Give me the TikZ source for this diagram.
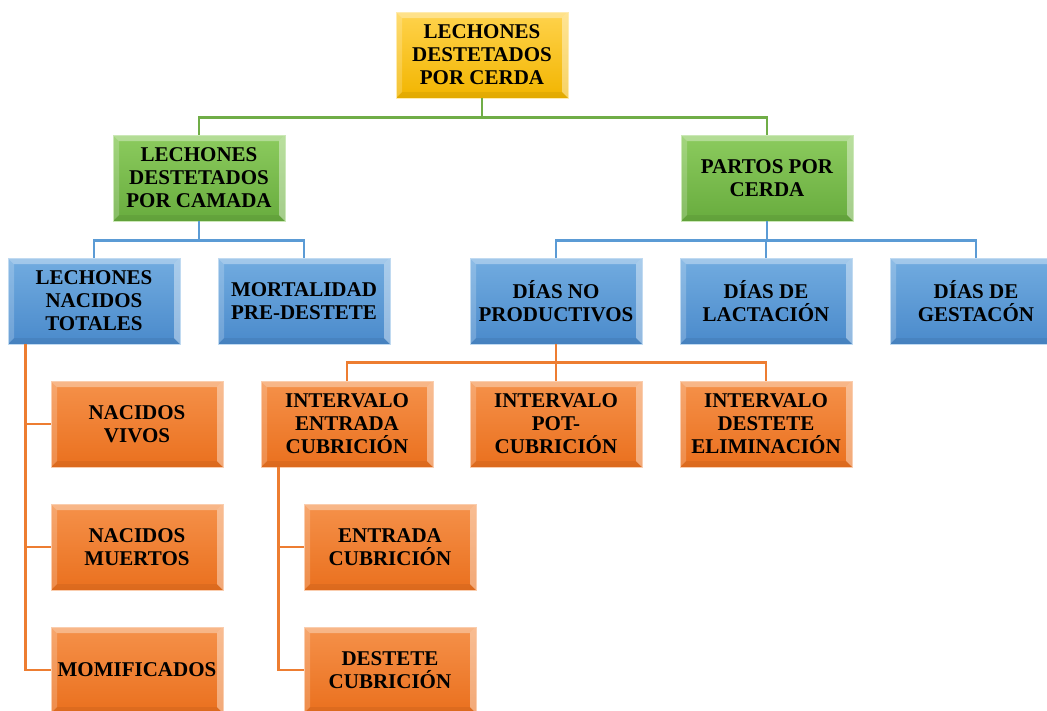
\documentclass[tikz,border=0pt]{standalone}
\usepackage{fontspec}
\setmainfont{Liberation Serif}
\definecolor{goldT}{HTML}{FFD34D}
\definecolor{goldB}{HTML}{F2B500}
\definecolor{greenT}{HTML}{8CCB5E}
\definecolor{greenB}{HTML}{68AC3E}
\definecolor{blueT}{HTML}{72ACE0}
\definecolor{blueB}{HTML}{4A8ACB}
\definecolor{orangeT}{HTML}{F5914A}
\definecolor{orangeB}{HTML}{EA701E}
\definecolor{gline}{HTML}{70AD47}
\definecolor{bline}{HTML}{5B9BD5}
\definecolor{oline}{HTML}{ED7D31}
\usetikzlibrary{calc}
\tikzset{
  card/.style n args={2}{rectangle, minimum width=172pt, minimum height=86pt, inner sep=0pt,
    align=center, font=\bfseries\fontsize{21}{23}\selectfont,
    top color=#1, bottom color=#2, draw=white!55!#1, line width=0.6pt,
    path picture={
      \fill[white,opacity=0.35] (path picture bounding box.north west) -- (path picture bounding box.north east) -- ++(-6,6) -- ($(path picture bounding box.north west)+(6,6)$) -- cycle;
      \fill[white,opacity=0.2] (path picture bounding box.north west) -- (path picture bounding box.south west) -- ++(6,-6) -- ($(path picture bounding box.north west)+(6,6)$) -- cycle;
      \fill[white,opacity=0.4] (path picture bounding box.north east) -- (path picture bounding box.south east) -- ++(-6,-6) -- ($(path picture bounding box.north east)+(-6,6)$) -- cycle;
      \fill[black,opacity=0.06] (path picture bounding box.south west) -- (path picture bounding box.south east) -- ++(-6,-6) -- ($(path picture bounding box.south west)+(6,-6)$) -- cycle;
    }},
  gold/.style={card={goldT}{goldB}},
  grn/.style={card={greenT}{greenB}},
  blu/.style={card={blueT}{blueB}},
  org/.style={card={orangeT}{orangeB}},
  link/.style={line width=2.6pt, color=#1}
}
\begin{document}
\begin{tikzpicture}[x=1pt,y=-1pt]
\useasboundingbox (0,0) rectangle (1047,710);
\node[gold] (top) at (482,55) {LECHONES\\DESTETADOS\\POR CERDA};
\node[grn] (ldc) at (199,178) {LECHONES\\DESTETADOS\\POR CAMADA};
\node[grn] (ppc) at (767,178) {PARTOS POR\\CERDA};
\node[blu] (lnt) at (94,301) {LECHONES\\NACIDOS\\TOTALES};
\node[blu] (mpd) at (304,301) {MORTALIDAD\\PRE-DESTETE};
\node[blu] (dnp) at (556,301) {DÍAS NO\\PRODUCTIVOS};
\node[blu] (ddl) at (766,301) {DÍAS DE\\LACTACIÓN};
\node[blu] (ddg) at (976,301) {DÍAS DE\\GESTACÓN};
\node[org] (nv) at (137,424) {NACIDOS\\VIVOS};
\node[org] (nm) at (137,547) {NACIDOS\\MUERTOS};
\node[org] (mom) at (137,670) {MOMIFICADOS};
\node[org] (iec) at (347,424) {INTERVALO\\ENTRADA\\CUBRICIÓN};
\node[org] (ipc) at (556,424) {INTERVALO\\POT-\\CUBRICIÓN};
\node[org] (ide) at (766,424) {INTERVALO\\DESTETE\\ELIMINACIÓN};
\node[org] (ec) at (390,547) {ENTRADA\\CUBRICIÓN};
\node[org] (dc) at (390,670) {DESTETE\\CUBRICIÓN};
\draw[link=gline] (top.south) -- ++(0,19) -| (ldc.north);
\draw[link=gline] (top.south) -- ++(0,19) -| (ppc.north);
\draw[link=bline] (ldc.south) -- ++(0,19) -| (lnt.north);
\draw[link=bline] (ldc.south) -- ++(0,19) -| (mpd.north);
\draw[link=bline] (ppc.south) -- ++(0,19) -| (dnp.north);
\draw[link=bline] (ppc.south) -- ++(0,19) -| (ddl.north);
\draw[link=bline] (ppc.south) -- ++(0,19) -| (ddg.north);
\draw[link=oline] (dnp.south) -- ++(0,18) -| (iec.north);
\draw[link=oline] (dnp.south) -- ++(0,18) -| (ipc.north);
\draw[link=oline] (dnp.south) -- ++(0,18) -| (ide.north);
\draw[link=oline] (lnt.south west) ++(18,0) |- (nv.west);
\draw[link=oline] (lnt.south west) ++(18,0) |- (nm.west);
\draw[link=oline] (lnt.south west) ++(18,0) |- (mom.west);
\draw[link=oline] (iec.south west) ++(18,0) |- (ec.west);
\draw[link=oline] (iec.south west) ++(18,0) |- (dc.west);
\end{tikzpicture}
\end{document}
